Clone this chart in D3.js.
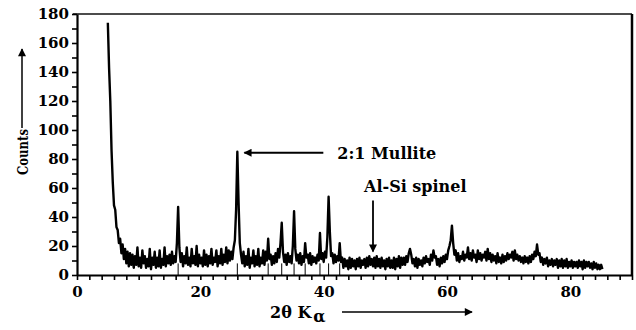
<!DOCTYPE html>
<html>
<head>
<meta charset="utf-8">
<script src="https://cdn.jsdelivr.net/npm/d3@7/dist/d3.min.js"></script>
<style>
  body { margin: 0; background: #fff; }
  text { font-family: "DejaVu Serif", serif; font-weight: bold; fill: #000; }
</style>
</head>
<body>
<svg id="chart" width="636" height="330"></svg>
<script>
const angleStart = 5.0
const angleStep = 0.2
const counts = [
  174, 143, 120, 86, 64, 48, 45, 33, 31, 22,
  25, 15, 21, 11, 18, 8, 16, 6, 15, 7,
  14, 5, 13, 7, 19, 6, 12, 5, 17, 8,
  13, 5, 11, 6, 18, 4, 12, 7, 16, 5,
  12, 6, 17, 5, 11, 7, 19, 6, 13, 8,
  14, 7, 16, 8, 13, 9, 22, 47, 19, 9,
  15, 6, 13, 8, 19, 7, 12, 6, 18, 8,
  13, 7, 20, 6, 14, 8, 12, 6, 17, 7,
  14, 6, 13, 8, 18, 7, 12, 9, 17, 6,
  13, 8, 18, 7, 14, 9, 19, 8, 17, 10,
  16, 11, 19, 24, 45, 85, 50, 22, 14, 8,
  16, 6, 13, 7, 18, 5, 12, 8, 17, 6,
  13, 7, 18, 6, 12, 8, 17, 7, 16, 10,
  25, 11, 14, 7, 13, 8, 15, 9, 18, 12,
  22, 36, 16, 9, 14, 7, 15, 9, 13, 8,
  20, 44, 18, 10, 14, 8, 15, 7, 13, 9,
  22, 12, 14, 8, 15, 7, 13, 9, 12, 8,
  14, 10, 29, 11, 15, 9, 16, 12, 26, 54,
  30, 13, 15, 8, 14, 9, 13, 10, 22, 9,
  12, 5, 11, 6, 10, 4, 12, 5, 11, 6,
  10, 4, 11, 6, 12, 5, 10, 7, 11, 5,
  12, 6, 13, 7, 11, 6, 12, 5, 13, 6,
  11, 5, 12, 6, 10, 4, 11, 6, 12, 5,
  10, 5, 12, 4, 11, 6, 13, 5, 12, 7,
  12, 7, 13, 9, 15, 18, 14, 8, 11, 6,
  12, 5, 11, 7, 10, 6, 12, 8, 13, 9,
  11, 7, 14, 10, 17, 12, 13, 7, 11, 6,
  12, 8, 13, 9, 14, 11, 17, 20, 24, 34,
  22, 14, 17, 10, 15, 9, 13, 11, 16, 10,
  14, 12, 19, 11, 15, 10, 17, 12, 14, 9,
  17, 11, 15, 10, 14, 12, 16, 10, 18, 11,
  15, 9, 14, 10, 13, 8, 15, 9, 12, 8,
  14, 9, 13, 10, 15, 11, 14, 12, 16, 10,
  17, 11, 14, 10, 13, 9, 12, 8, 13, 9,
  12, 8, 13, 9, 14, 11, 16, 13, 21, 14,
  15, 9, 12, 7, 11, 8, 12, 6, 10, 7,
  11, 6, 10, 7, 11, 5, 10, 6, 11, 5,
  10, 6, 11, 5, 9, 6, 10, 5, 9, 6,
  9, 5, 10, 6, 9, 4, 10, 5, 9, 6,
  9, 5, 8, 4, 9, 5, 8, 4, 7, 4,
  7, 4
]

// peak positions that show a drop line down to the axis
const peakAngles = [16.4, 26.0, 31.0, 33.2, 35.2, 37.0, 39.4, 40.8, 42.6]

const xTickLabels = [0, 20, 40, 60, 80]
const yTickLabels = [0, 20, 40, 60, 80, 100, 120, 140, 160, 180]

const annotations = [
  { text: '2:1 Mullite', angle: 26.0, count: 85 },
  { text: 'Al-Si spinel', angle: 48.0, count: 12 }
]

const svg = d3.select('#chart')
const plotLeft = 77, plotRight = 632, plotTop = 14, plotBottom = 275

const x = d3.scaleLinear().domain([0, 90]).range([plotLeft, plotRight])
const y = d3.scaleLinear().domain([0, 180]).range([plotBottom, plotTop])

const defs = svg.append('defs')
defs.append('marker')
  .attr('id', 'head')
  .attr('viewBox', '0 0 10 10')
  .attr('refX', 9).attr('refY', 5)
  .attr('markerWidth', 10).attr('markerHeight', 8)
  .attr('markerUnits', 'userSpaceOnUse')
  .attr('orient', 'auto')
  .append('path').attr('d', 'M0,0 L10,5 L0,10 Z').attr('fill', '#000')

// frame: thin top, heavy right
svg.append('line')
  .attr('x1', plotLeft - 4).attr('x2', plotRight).attr('y1', plotTop).attr('y2', plotTop)
  .attr('stroke', '#111').attr('stroke-width', 1.3)
svg.append('line')
  .attr('x1', plotRight).attr('x2', plotRight).attr('y1', plotTop).attr('y2', plotBottom)
  .attr('stroke', '#000').attr('stroke-width', 2.5)

// drop lines
svg.append('g')
  .selectAll('line')
  .data(peakAngles)
  .join('line')
  .attr('x1', d => x(d)).attr('x2', d => x(d))
  .attr('y1', y(0)).attr('y2', y(8))
  .attr('stroke', '#000').attr('stroke-width', 1)

const line = d3.line()
  .x((d, i) => x(angleStart + i * angleStep))
  .y(d => y(d))

svg.append('path')
  .datum(counts)
  .attr('d', line)
  .attr('fill', 'none')
  .attr('stroke', '#000')
  .attr('stroke-width', 2.4)
  .attr('stroke-linejoin', 'round')

// axes
const xAxis = d3.axisBottom(x)
  .tickValues(d3.range(0, 91, 2))
  .tickFormat(d => xTickLabels.includes(d) ? d : '')
  .tickSizeInner(5).tickSizeOuter(0).tickPadding(6)
const yAxis = d3.axisLeft(y)
  .tickValues(d3.range(0, 181, 10))
  .tickFormat(d => yTickLabels.includes(d) ? d : '')
  .tickSizeInner(5).tickSizeOuter(0).tickPadding(3)

const gx = svg.append('g').attr('transform', `translate(0,${plotBottom})`).call(xAxis)
const gy = svg.append('g').attr('transform', `translate(${plotLeft},0)`).call(yAxis)

for (const g of [gx, gy]) {
  g.select('.domain').attr('stroke', '#000').attr('stroke-width', 2.2)
  g.selectAll('.tick line').attr('stroke', '#000').attr('stroke-width', 1.6)
  g.selectAll('.tick text').attr('font-size', 15).attr('fill', '#000')
}

// annotations
const mul = annotations[0]
svg.append('line')
  .attr('x1', x(mul.angle) + 86).attr('x2', x(mul.angle) + 7)
  .attr('y1', y(mul.count) + 1).attr('y2', y(mul.count) + 1)
  .attr('stroke', '#000').attr('stroke-width', 1.8)
  .attr('marker-end', 'url(#head)')
svg.append('text')
  .attr('x', x(mul.angle) + 100).attr('y', y(mul.count) + 7)
  .attr('font-size', 16)
  .text(mul.text)

const sp = annotations[1]
svg.append('line')
  .attr('x1', x(sp.angle)).attr('x2', x(sp.angle))
  .attr('y1', y(sp.count) - 57).attr('y2', y(sp.count) - 6)
  .attr('stroke', '#000').attr('stroke-width', 1.8)
  .attr('marker-end', 'url(#head)')
svg.append('text')
  .attr('x', x(sp.angle) - 9).attr('y', y(sp.count) - 66)
  .attr('font-size', 16)
  .text(sp.text)

// axis titles
const xt = svg.append('text')
  .attr('x', 270).attr('y', 318)
  .attr('font-size', 16)
xt.append('tspan').text('2θ K')
xt.append('tspan').attr('dx', 2).attr('dy', 4).attr('font-size', 16).text('α')
svg.append('line')
  .attr('x1', 342).attr('x2', 472).attr('y1', 312).attr('y2', 312)
  .attr('stroke', '#000').attr('stroke-width', 1.5)
  .attr('marker-end', 'url(#head)')

svg.append('text')
  .attr('transform', 'translate(28,152) rotate(-90)')
  .attr('text-anchor', 'middle')
  .attr('font-size', 15)
  .attr('textLength', 46)
  .attr('lengthAdjust', 'spacingAndGlyphs')
  .text('Counts')
svg.append('line')
  .attr('x1', 22).attr('x2', 22).attr('y1', 128).attr('y2', 49)
  .attr('stroke', '#000').attr('stroke-width', 1.5)
  .attr('marker-end', 'url(#head)')
</script>
</body>
</html>
